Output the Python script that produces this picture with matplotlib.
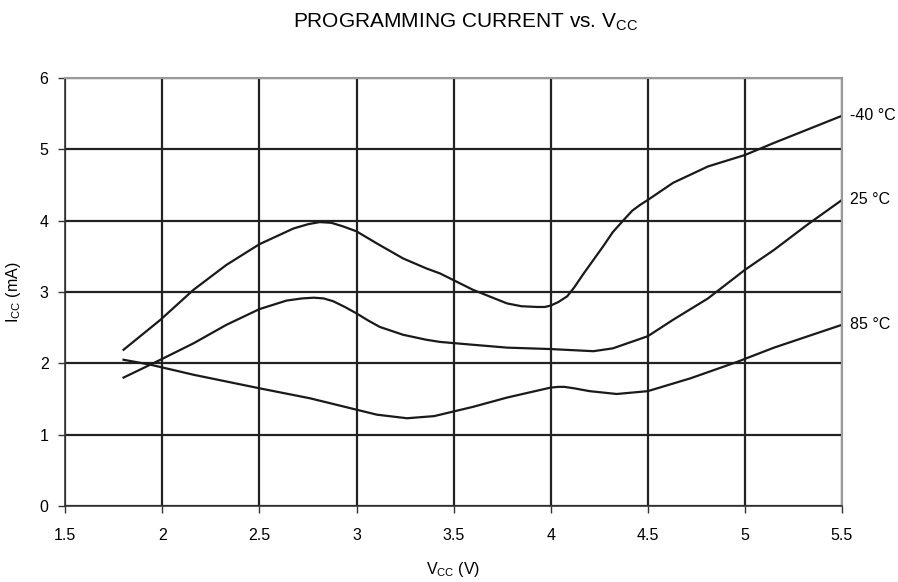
import matplotlib
matplotlib.use("Agg")
import matplotlib.pyplot as plt

plt.rcParams['font.family'] = ['Liberation Sans', 'DejaVu Sans']

# -40 C curve
m40_v = [1.80, 1.99, 2.16, 2.33, 2.50, 2.675, 2.75, 2.81, 2.87, 2.93, 3.00, 3.105, 3.24, 3.36,
         3.43, 3.60, 3.775, 3.85, 3.93, 3.97, 4.00, 4.04, 4.085, 4.12, 4.17, 4.22, 4.27, 4.32,
         4.376, 4.42, 4.46, 4.50, 4.63, 4.81, 5.00, 5.15, 5.50]
m40_i = [2.19, 2.61, 3.03, 3.38, 3.67, 3.89, 3.95, 3.98, 3.97, 3.92, 3.85, 3.68, 3.47, 3.33,
         3.26, 3.03, 2.84, 2.80, 2.79, 2.79, 2.81, 2.86, 2.94, 3.06, 3.26, 3.45, 3.64, 3.84,
         4.01, 4.14, 4.22, 4.29, 4.53, 4.76, 4.92, 5.09, 5.47]

# 25 C curve
p25_v = [1.80, 1.937, 1.99, 2.16, 2.33, 2.50, 2.64, 2.72, 2.78, 2.83, 2.88, 2.94, 3.00, 3.06,
         3.12, 3.24, 3.36, 3.43, 3.60, 3.775, 4.00, 4.22, 4.32, 4.50, 4.63, 4.81, 5.00, 5.15,
         5.32, 5.50]
p25_i = [1.80, 1.98, 2.05, 2.28, 2.54, 2.76, 2.88, 2.91, 2.92, 2.91, 2.87, 2.79, 2.70, 2.60,
         2.51, 2.40, 2.33, 2.30, 2.26, 2.22, 2.20, 2.17, 2.21, 2.38, 2.61, 2.91, 3.31, 3.59,
         3.94, 4.29]

# 85 C curve
p85_v = [1.80, 1.94, 2.16, 2.50, 2.76, 3.00, 3.105, 3.26, 3.40, 3.60, 3.775, 4.00, 4.04,
         4.07, 4.12, 4.20, 4.34, 4.50, 4.72, 4.96, 5.15, 5.50]
p85_i = [2.05, 1.98, 1.84, 1.65, 1.51, 1.35, 1.28, 1.23, 1.26, 1.39, 1.52, 1.66, 1.67,
         1.67, 1.65, 1.61, 1.57, 1.61, 1.79, 2.02, 2.22, 2.54]

labels = ['-40 °C', '25 °C', '85 °C']
xticks = [1.5, 2, 2.5, 3, 3.5, 4, 4.5, 5, 5.5]
xticklabels = ['1.5', '2', '2.5', '3', '3.5', '4', '4.5', '5', '5.5']
yticks = [0, 1, 2, 3, 4, 5, 6]

fig = plt.figure(figsize=(8.98, 5.82), dpi=100)
ax = fig.add_axes([0.0727, 0.1306, 0.8649, 0.7354])

ax.set_xlim(1.5, 5.5)
ax.set_ylim(0, 6)
ax.set_xticks(xticks)
ax.set_xticklabels(xticklabels)
ax.set_yticks(yticks)
ax.grid(True, color='#222222', linewidth=1.6)
ax.set_axisbelow(True)

for s in ['top', 'right']:
    ax.spines[s].set_color('#999999')
    ax.spines[s].set_linewidth(1.5)
for s in ['left', 'bottom']:
    ax.spines[s].set_color('#333333')
    ax.spines[s].set_linewidth(1.2)

ax.tick_params(axis='both', direction='out', length=5, width=1, color='#333333',
               labelsize=11.5)
ax.tick_params(axis='x', pad=11)
ax.tick_params(axis='y', pad=7)

series = [(m40_v, m40_i), (p25_v, p25_i), (p85_v, p85_i)]
for (v, i), lab in zip(series, labels):
    ax.plot(v, i, color='#1a1a1a', linewidth=1.6, solid_joinstyle='round')
    ax.annotate(lab, xy=(v[-1], i[-1]), xytext=(6, 0), textcoords='offset points',
                va='center', ha='left', fontsize=11.5, annotation_clip=False)

fig.text(0.518, 0.962, r'PROGRAMMING CURRENT vs. V$_\mathregular{CC}$', ha='center', va='center',
         fontsize=15)
ax.set_xlabel(r'V$_\mathregular{CC}$ (V)', fontsize=11.5, labelpad=12)
ax.set_ylabel(r'I$_\mathregular{CC}$ (mA)', fontsize=11.5, labelpad=12)

fig.savefig('out.png', dpi=100)
